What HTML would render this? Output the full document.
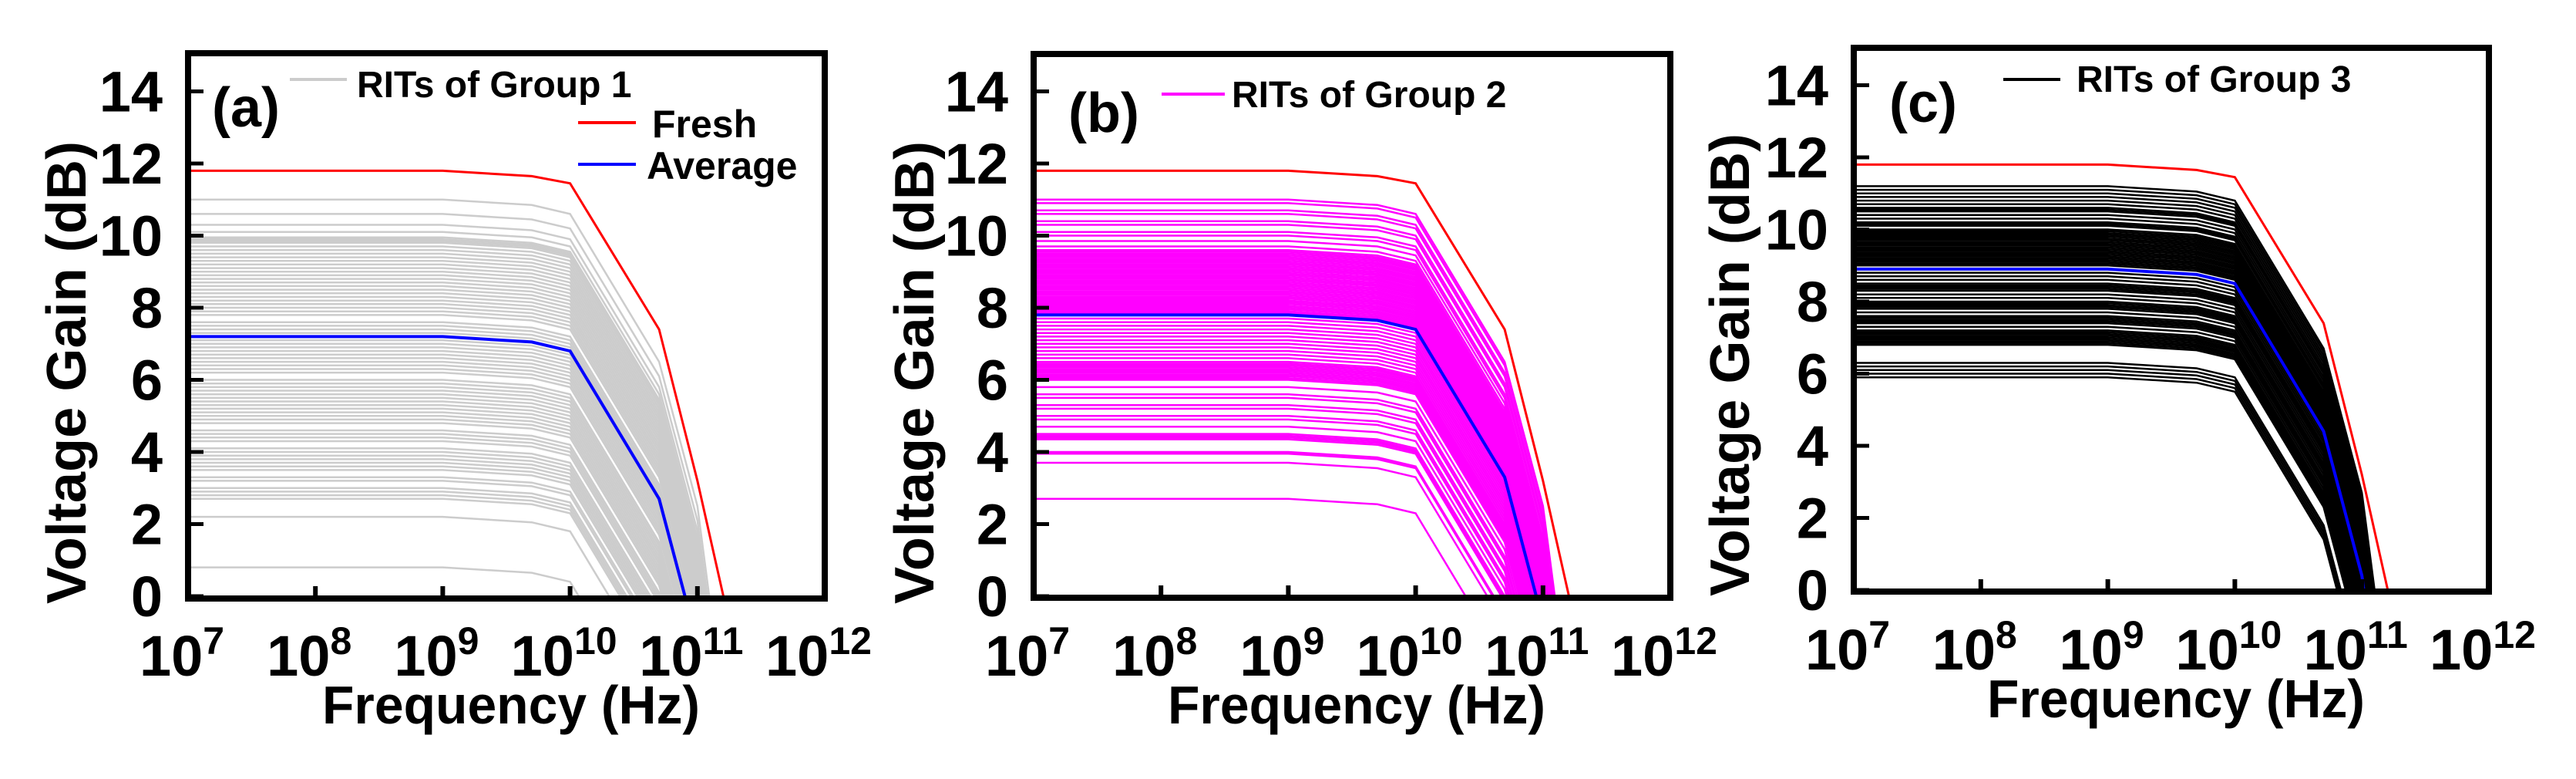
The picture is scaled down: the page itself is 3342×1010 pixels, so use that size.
<!DOCTYPE html>
<html><head><meta charset="utf-8">
<style>
html,body{margin:0;padding:0;background:#fff;width:3342px;height:1010px;overflow:hidden;}
svg{display:block;font-family:"Liberation Sans",Arial,sans-serif;font-weight:bold;}
</style></head>
<body>
<svg id="fig" width="3342" height="1010" viewBox="0 0 3342 1010" xmlns="http://www.w3.org/2000/svg"></svg>
<script>
// ---- data ----
const freqs = [1e7, 1e9, 5e9, 1e10, 5e10, 1e11, 1.6e11];
const rollOff = [0, 0, 0.15, 0.4, 4.5, 8.5, 14];
const freshGain = [11.8, 11.8, 11.65, 11.45, 7.4, 3.2, 0];
const avgGroup1 = 7.2, avgGroup2 = 7.8, avgGroup3 = 8.9;
const group1Gains = [11.0,10.6,10.3,10.1,9.95,9.9,9.85,9.8,9.7,9.6,9.5,9.4,9.3,9.2,9.1,9.0,8.9,8.8,8.7,8.6,8.5,8.4,8.3,8.2,8.1,8.0,7.9,7.8,7.6,7.5,7.4,7.3,7.1,7.0,6.9,6.8,6.7,6.6,6.5,6.4,6.3,6.2,6.0,5.9,5.8,5.7,5.6,5.5,5.4,5.3,5.2,5.1,5.0,4.9,4.8,4.6,4.5,4.4,4.3,4.1,4.0,3.9,3.8,3.7,3.6,3.5,3.3,3.2,3.0,2.9,2.8,2.7,2.2,0.8];
const group2Gains = [11.0,10.9,10.7,10.6,10.4,10.3,10.1,10.0,9.85,9.7,9.6,9.55,9.5,9.45,9.4,9.35,9.3,9.25,9.2,9.15,9.1,9.05,9.0,8.95,8.9,8.85,8.8,8.75,8.7,8.65,8.6,8.55,8.5,8.45,8.4,8.35,8.3,8.25,8.2,8.15,8.1,8.05,8.0,7.95,7.9,7.85,7.7,7.6,7.5,7.4,7.3,7.2,7.1,7.0,6.9,6.8,6.7,6.6,6.5,6.45,6.4,6.35,6.3,6.25,6.2,6.15,6.1,6.05,6.0,5.8,5.6,5.5,5.3,5.2,5.0,4.9,4.7,4.5,4.45,4.4,4.35,4.0,3.95,3.7,2.7];
const group3Gains = [11.2,11.1,11.0,10.9,10.8,10.7,10.6,10.55,10.5,10.4,10.3,10.2,10.15,10.1,10.0,9.95,9.9,9.85,9.8,9.75,9.7,9.65,9.6,9.55,9.5,9.45,9.4,9.35,9.3,9.25,9.2,9.15,9.1,9.05,9.0,8.8,8.7,8.6,8.5,8.45,8.4,8.35,8.3,8.2,8.1,8.0,7.95,7.9,7.85,7.8,7.7,7.6,7.55,7.5,7.45,7.4,7.3,7.2,7.15,7.1,7.05,7.0,6.95,6.9,6.85,6.8,6.3,6.2,6.1,6.0,5.9];
const yTicks = [0,2,4,6,8,10,12,14];
const xExps = [7,8,9,10,11,12];

const NS = "http://www.w3.org/2000/svg";
const svg = document.getElementById('fig');
function mk(tag, attrs, parent){
  const e = document.createElementNS(NS, tag);
  for (const k in attrs) e.setAttribute(k, attrs[k]);
  (parent||svg).appendChild(e);
  return e;
}

const panels = [
  {id:'a', left:244, right:1070, top:69, bottom:776, zero:773, gains:group1Gains, color:'#cccccc', avg:avgGroup1,
   ytx:86, yty:483, tag:[275,164], leg:[376,450,103,463,126], legText:'RITs of Group 1', extra:true},
  {id:'b', left:1341, right:2167, top:70, bottom:775, zero:773, gains:group2Gains, color:'#ff00ff', avg:avgGroup2,
   ytx:1186, yty:483, tag:[1386,171], leg:[1507,1589,122,1598,139], legText:'RITs of Group 2'},
  {id:'c', left:2405, right:3229, top:62, bottom:767, zero:765, gains:group3Gains, color:'#000000', avg:avgGroup3,
   ytx:2244, yty:473, tag:[2451,158], leg:[2599,2673,103,2694,119], legText:'RITs of Group 3'}
];

panels.forEach(p => {
  const dec = (p.right - p.left) / 5;
  const xs = f => p.left + (Math.log10(f) - 7) * dec;
  const ys = g => p.zero - g * 46.75;
  const g = mk('g', {});
  
  
  const clip = mk('clipPath', {id:'clip-'+p.id}, g);
  mk('rect', {x:p.left, y:p.top, width:p.right-p.left, height:p.zero-p.top}, clip);
  const plot = mk('g', {'clip-path':'url(#clip-'+p.id+')'}, g);
  
  
  const pathFor = vals => vals.map((v,i)=>(i?'L':'M')+xs(freqs[i]).toFixed(1)+' '+ys(v).toFixed(1)).join(' ');
  p.gains.forEach((base) => {
    const l = mk('path', {d:pathFor(rollOff.map(r=>base-r)), fill:'none', stroke:p.color, 'stroke-width':2.5}, plot);
    
    
  });
  const fr = mk('path', {d:pathFor(freshGain), fill:'none', stroke:'#ff0000', 'stroke-width':3}, plot);
  
  
  const av = mk('path', {d:pathFor(rollOff.map(r=>p.avg-r)), fill:'none', stroke:'#0000ff', 'stroke-width':4}, plot);
  
  
  const fr2 = mk('rect', {x:p.left, y:p.top, width:p.right-p.left, height:p.bottom-p.top, fill:'none', stroke:'#000', 'stroke-width':8}, g);
  
  
  yTicks.forEach(t => {
    mk('line', {x1:p.left, x2:p.left+20, y1:ys(t), y2:ys(t), stroke:'#000', 'stroke-width':5}, g);
    const tx = mk('text', {x:p.left-33, y:ys(t)+26, 'text-anchor':'end', 'font-size':74}, g);
    tx.textContent = t;
    
    
  });
  xExps.forEach(e => {
    const x = p.left + (e-7)*dec;
    mk('line', {x1:x, x2:x, y1:p.bottom, y2:p.bottom-16, stroke:'#000', 'stroke-width':6}, g);
    const tx = mk('text', {x:x-8, y:p.zero+103, 'text-anchor':'middle', 'font-size':74}, g);
    tx.textContent = '10';
    
    
    const sp = mk('tspan', {dy:-28, 'font-size':50}, tx);
    sp.textContent = e;
  });
  const xt = mk('text', {x:(p.left+p.right)/2+6, y:p.zero+165, 'text-anchor':'middle', 'font-size':70, textLength:490, lengthAdjust:'spacingAndGlyphs'}, g);
  xt.textContent = 'Frequency (Hz)';
  
  
  const yt = mk('text', {x:0, y:0, 'text-anchor':'middle', 'font-size':72, textLength:600, lengthAdjust:'spacingAndGlyphs',
    transform:'translate('+(p.ytx+25)+','+p.yty+') rotate(-90)'}, g);
  yt.textContent = 'Voltage Gain (dB)';
  
  
  const tg = mk('text', {x:p.tag[0], y:p.tag[1], 'font-size':72}, g);
  tg.textContent = '(' + p.id + ')';
  
  
  const ll = mk('line', {x1:p.leg[0], x2:p.leg[1], y1:p.leg[2], y2:p.leg[2], stroke:p.color, 'stroke-width':4}, g);
  
  
  const lt = mk('text', {x:p.leg[3], y:p.leg[4], 'font-size':48}, g);
  lt.textContent = p.legText;
  
  
  if (p.extra) {
    mk('line', {x1:750, x2:825, y1:159, y2:159, stroke:'#ff0000', 'stroke-width':4}, g);
    const t1 = mk('text', {x:846, y:178, 'font-size':50}, g);
    t1.textContent = 'Fresh';
    
    
    mk('line', {x1:750, x2:825, y1:213, y2:213, stroke:'#0000ff', 'stroke-width':4}, g);
    const t2 = mk('text', {x:839, y:232, 'font-size':50}, g);
    t2.textContent = 'Average';
    
    
  }
});
</script>
</body></html>
